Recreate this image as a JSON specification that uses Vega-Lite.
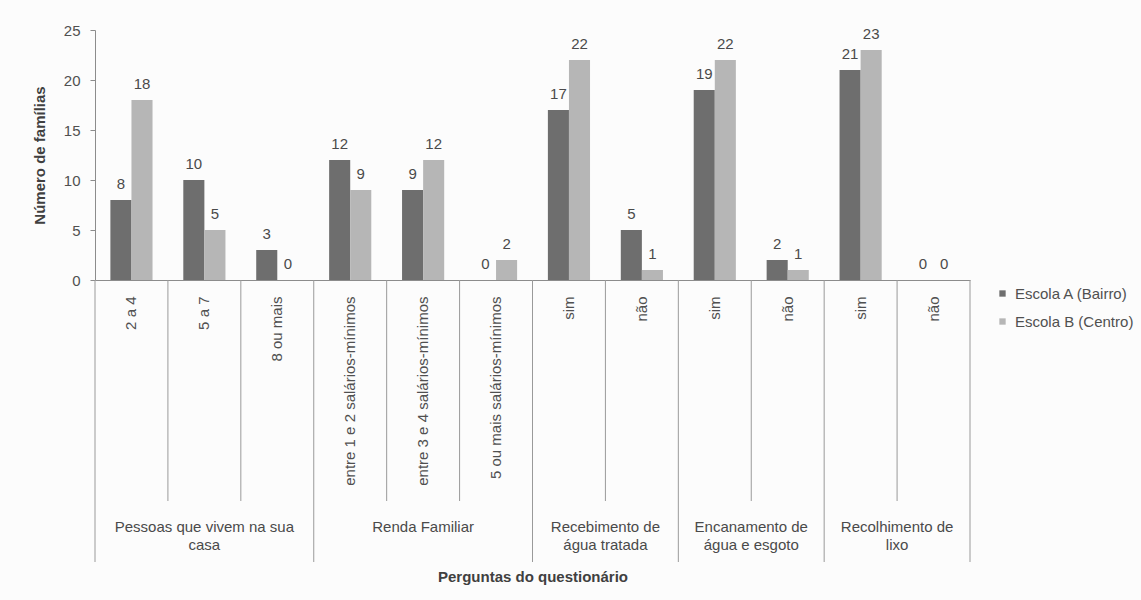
{
  "$schema": "https://vega.github.io/schema/vega-lite/v6.json",
  "autosize": {"type": "none"},
  "padding": {"left": 95, "top": 30, "right": 171, "bottom": 320},
  "width": 875,
  "height": 250,
  "background": "#fcfcfc",
  "config": {
    "view": {"stroke": null},
    "font": "Liberation Sans",
    "axis": {"domainColor": "#8c8c8c", "labelColor": "#505050", "titleColor": "#404040", "labelFont": "Liberation Sans", "titleFont": "Liberation Sans", "labelFontSize": 15, "titleFontSize": 15, "titleFontWeight": "bold", "grid": false},
    "legend": {"labelFont": "Liberation Sans", "labelFontSize": 15, "labelColor": "#505050"}
  },
  "datasets": {
    "bars": [
      {"item": "Pessoas|2 a 4", "escola": "Escola A (Bairro)", "n": 8},
      {"item": "Pessoas|2 a 4", "escola": "Escola B (Centro)", "n": 18},
      {"item": "Pessoas|5 a 7", "escola": "Escola A (Bairro)", "n": 10},
      {"item": "Pessoas|5 a 7", "escola": "Escola B (Centro)", "n": 5},
      {"item": "Pessoas|8 ou mais", "escola": "Escola A (Bairro)", "n": 3},
      {"item": "Pessoas|8 ou mais", "escola": "Escola B (Centro)", "n": 0},
      {"item": "Renda|entre 1 e 2 salários-mínimos", "escola": "Escola A (Bairro)", "n": 12},
      {"item": "Renda|entre 1 e 2 salários-mínimos", "escola": "Escola B (Centro)", "n": 9},
      {"item": "Renda|entre 3 e 4 salários-mínimos", "escola": "Escola A (Bairro)", "n": 9},
      {"item": "Renda|entre 3 e 4 salários-mínimos", "escola": "Escola B (Centro)", "n": 12},
      {"item": "Renda|5 ou mais salários-mínimos", "escola": "Escola A (Bairro)", "n": 0},
      {"item": "Renda|5 ou mais salários-mínimos", "escola": "Escola B (Centro)", "n": 2},
      {"item": "Água|sim", "escola": "Escola A (Bairro)", "n": 17},
      {"item": "Água|sim", "escola": "Escola B (Centro)", "n": 22},
      {"item": "Água|não", "escola": "Escola A (Bairro)", "n": 5},
      {"item": "Água|não", "escola": "Escola B (Centro)", "n": 1},
      {"item": "Esgoto|sim", "escola": "Escola A (Bairro)", "n": 19},
      {"item": "Esgoto|sim", "escola": "Escola B (Centro)", "n": 22},
      {"item": "Esgoto|não", "escola": "Escola A (Bairro)", "n": 2},
      {"item": "Esgoto|não", "escola": "Escola B (Centro)", "n": 1},
      {"item": "Lixo|sim", "escola": "Escola A (Bairro)", "n": 21},
      {"item": "Lixo|sim", "escola": "Escola B (Centro)", "n": 23},
      {"item": "Lixo|não", "escola": "Escola A (Bairro)", "n": 0},
      {"item": "Lixo|não", "escola": "Escola B (Centro)", "n": 0}
    ],
    "lines": [
      {"item": "Pessoas|2 a 4", "kind": "group"},
      {"item": "Pessoas|5 a 7", "kind": "inner"},
      {"item": "Pessoas|8 ou mais", "kind": "inner"},
      {"item": "Renda|entre 1 e 2 salários-mínimos", "kind": "group"},
      {"item": "Renda|entre 3 e 4 salários-mínimos", "kind": "inner"},
      {"item": "Renda|5 ou mais salários-mínimos", "kind": "inner"},
      {"item": "Água|sim", "kind": "group"},
      {"item": "Água|não", "kind": "inner"},
      {"item": "Esgoto|sim", "kind": "group"},
      {"item": "Esgoto|não", "kind": "inner"},
      {"item": "Lixo|sim", "kind": "group"},
      {"item": "Lixo|não", "kind": "inner"}
    ],
    "groups": [
      {"item": "Pessoas|5 a 7", "label": "Pessoas que vivem na sua\ncasa", "span": 3},
      {"item": "Renda|entre 3 e 4 salários-mínimos", "label": "Renda Familiar", "span": 3},
      {"item": "Água|não", "label": "Recebimento de\nágua tratada", "span": 2},
      {"item": "Esgoto|não", "label": "Encanamento de\nágua e esgoto", "span": 2},
      {"item": "Lixo|não", "label": "Recolhimento de\nlixo", "span": 2}
    ]
  },
  "layer": [
    {
      "data": {"name": "bars"},
      "mark": {"type": "bar"},
      "encoding": {
        "x": {"field": "item", "type": "nominal", "title": "Perguntas do questionário",
          "scale": {"domain": ["Pessoas|2 a 4","Pessoas|5 a 7","Pessoas|8 ou mais","Renda|entre 1 e 2 salários-mínimos","Renda|entre 3 e 4 salários-mínimos","Renda|5 ou mais salários-mínimos","Água|sim","Água|não","Esgoto|sim","Esgoto|não","Lixo|sim","Lixo|não"], "paddingInner": 0, "paddingOuter": 0},
          "axis": {"labelAngle": -90, "labelExpr": "split(datum.label, '|')[1]", "labelLimit": 0, "ticks": false, "labelPadding": 16, "titlePadding": 89, "domainColor": "#8c8c8c"}},
        "xOffset": {"field": "escola", "type": "nominal", "scale": {"paddingInner": 0, "paddingOuter": 0.73}},
        "y": {"field": "n", "type": "quantitative", "title": "Número de famílias",
          "scale": {"domain": [0, 25], "nice": false},
          "axis": {"values": [0, 5, 10, 15, 20, 25], "tickSize": 5, "tickColor": "#8c8c8c", "labelPadding": 10, "titlePadding": 16}},
        "color": {"field": "escola", "type": "nominal",
          "scale": {"domain": ["Escola A (Bairro)", "Escola B (Centro)"], "range": ["#6e6e6e", "#b6b6b6"]},
          "legend": {"title": null, "orient": "none", "legendX": 900, "legendY": 256, "symbolType": "square", "symbolSize": 40, "rowPadding": 12, "labelOffset": 5, "padding": 0}}
      }
    },
    {
      "data": {"name": "bars"},
      "mark": {"type": "text", "baseline": "alphabetic", "dy": -11, "fontSize": 15, "color": "#4a4a4a"},
      "encoding": {
        "x": {"field": "item", "type": "nominal", "title": "Perguntas do questionário",
          "scale": {"domain": ["Pessoas|2 a 4","Pessoas|5 a 7","Pessoas|8 ou mais","Renda|entre 1 e 2 salários-mínimos","Renda|entre 3 e 4 salários-mínimos","Renda|5 ou mais salários-mínimos","Água|sim","Água|não","Esgoto|sim","Esgoto|não","Lixo|sim","Lixo|não"]}},
        "xOffset": {"field": "escola", "type": "nominal"},
        "y": {"field": "n", "type": "quantitative", "title": "Número de famílias"},
        "text": {"field": "n", "type": "quantitative"}
      }
    },
    {
      "data": {"name": "lines"},
      "transform": [{"filter": "datum.kind == 'inner'"}],
      "mark": {"type": "rule", "color": "#9a9a9a", "strokeWidth": 1},
      "encoding": {
        "x": {"field": "item", "type": "nominal", "bandPosition": 0, "title": "Perguntas do questionário",
          "scale": {"domain": ["Pessoas|2 a 4","Pessoas|5 a 7","Pessoas|8 ou mais","Renda|entre 1 e 2 salários-mínimos","Renda|entre 3 e 4 salários-mínimos","Renda|5 ou mais salários-mínimos","Água|sim","Água|não","Esgoto|sim","Esgoto|não","Lixo|sim","Lixo|não"]}},
        "y": {"datum": 0},
        "y2": {"datum": -22.1}
      }
    },
    {
      "data": {"name": "lines"},
      "transform": [{"filter": "datum.kind == 'group'"}],
      "mark": {"type": "rule", "color": "#9a9a9a", "strokeWidth": 1},
      "encoding": {
        "x": {"field": "item", "type": "nominal", "bandPosition": 0, "title": "Perguntas do questionário",
          "scale": {"domain": ["Pessoas|2 a 4","Pessoas|5 a 7","Pessoas|8 ou mais","Renda|entre 1 e 2 salários-mínimos","Renda|entre 3 e 4 salários-mínimos","Renda|5 ou mais salários-mínimos","Água|sim","Água|não","Esgoto|sim","Esgoto|não","Lixo|sim","Lixo|não"]}},
        "y": {"datum": 0},
        "y2": {"datum": -28.2}
      }
    },
    {
      "data": {"name": "lines"},
      "transform": [{"filter": "datum.item == 'Lixo|não'"}],
      "mark": {"type": "rule", "color": "#9a9a9a", "strokeWidth": 1},
      "encoding": {
        "x": {"field": "item", "type": "nominal", "bandPosition": 1, "title": "Perguntas do questionário",
          "scale": {"domain": ["Pessoas|2 a 4","Pessoas|5 a 7","Pessoas|8 ou mais","Renda|entre 1 e 2 salários-mínimos","Renda|entre 3 e 4 salários-mínimos","Renda|5 ou mais salários-mínimos","Água|sim","Água|não","Esgoto|sim","Esgoto|não","Lixo|sim","Lixo|não"]}},
        "y": {"datum": 0},
        "y2": {"datum": -28.2}
      }
    },
    {
      "data": {"name": "groups"},
      "transform": [{"filter": "datum.span == 3"}],
      "mark": {"type": "text", "baseline": "top", "align": "center", "fontSize": 15, "lineHeight": 18, "lineBreak": "\n", "color": "#4a4a4a"},
      "encoding": {
        "x": {"field": "item", "type": "nominal", "title": "Perguntas do questionário",
          "scale": {"domain": ["Pessoas|2 a 4","Pessoas|5 a 7","Pessoas|8 ou mais","Renda|entre 1 e 2 salários-mínimos","Renda|entre 3 e 4 salários-mínimos","Renda|5 ou mais salários-mínimos","Água|sim","Água|não","Esgoto|sim","Esgoto|não","Lixo|sim","Lixo|não"]}},
        "y": {"datum": -24.0},
        "text": {"field": "label"}
      }
    },
    {
      "data": {"name": "groups"},
      "transform": [{"filter": "datum.span == 2"}],
      "mark": {"type": "text", "baseline": "top", "align": "center", "fontSize": 15, "lineHeight": 18, "lineBreak": "\n", "color": "#4a4a4a"},
      "encoding": {
        "x": {"field": "item", "type": "nominal", "bandPosition": 0, "title": "Perguntas do questionário",
          "scale": {"domain": ["Pessoas|2 a 4","Pessoas|5 a 7","Pessoas|8 ou mais","Renda|entre 1 e 2 salários-mínimos","Renda|entre 3 e 4 salários-mínimos","Renda|5 ou mais salários-mínimos","Água|sim","Água|não","Esgoto|sim","Esgoto|não","Lixo|sim","Lixo|não"]}},
        "y": {"datum": -24.0},
        "text": {"field": "label"}
      }
    }
  ]
}
